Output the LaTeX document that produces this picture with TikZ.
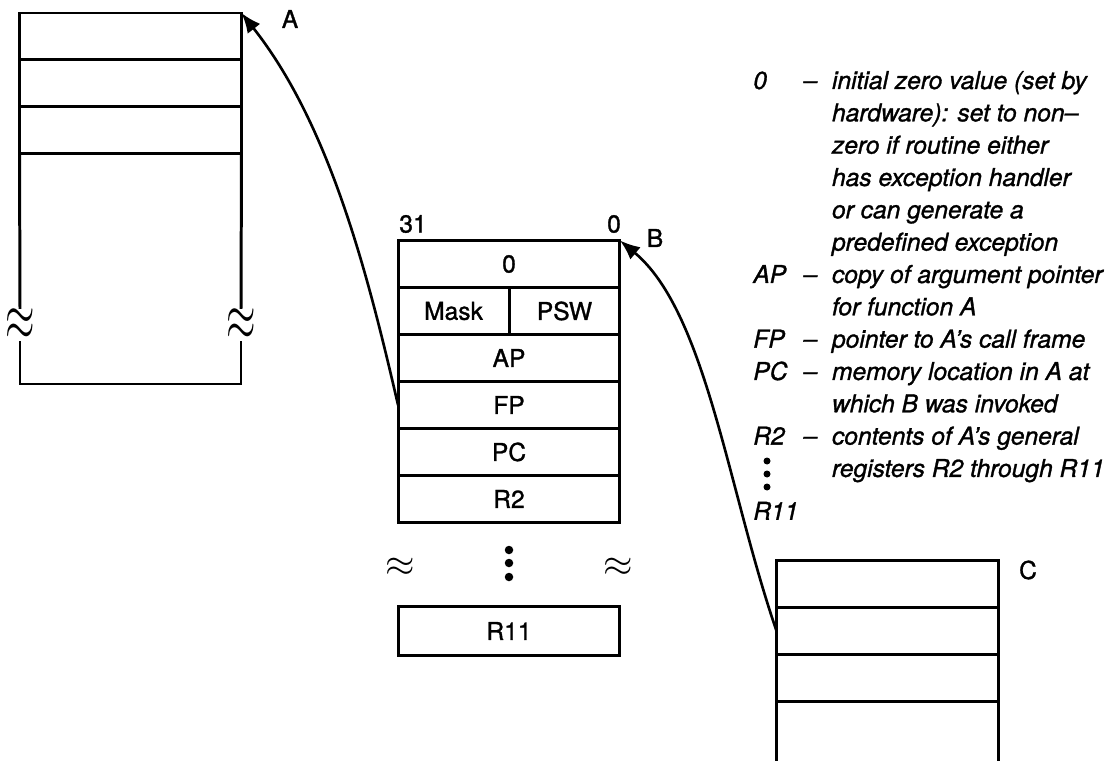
\documentclass[tikz,border=0pt]{standalone}
\usepackage{fontspec}
\setmainfont{TeX Gyre Heros}[RawFeature={embolden=1.2}]
\usetikzlibrary{arrows.meta, positioning}

\begin{document}
\begin{tikzpicture}[x=0.02cm, y=-0.02cm,
        cell/.style={rectangle, draw=black, line width=1.7pt, outer sep=0pt, inner sep=0pt, minimum width=4.44cm, minimum height=0.94cm, font=\fontsize{14}{17}\selectfont},
        half/.style={cell, minimum width=2.22cm},
        brk/.style={inner sep=0pt, font=\fontsize{14}{17}\selectfont},
        lbl/.style={inner sep=0pt, font=\fontsize{14}{17}\selectfont},
        side/.style={line width=1.7pt},
        arrow/.style={-{Latex[length=4mm, width=3.2mm]}, line width=1.5pt, draw=black}
    ]
        \useasboundingbox (0,0) rectangle (1111,760);

        % Pila de A (arriba a la izquierda)
        \node [cell] (a1) at (130.5,36.5) {};
        \node [cell, below=0pt of a1] (a2) {};
        \node [cell, below=0pt of a2] (a3) {};
        \node [brk] (abl) at (20,325) {\scalebox{1.5}[2.6]{$\approx$}};
        \node [brk] (abr) at (241,325) {\scalebox{1.5}[2.6]{$\approx$}};
        \coordinate (abot) at (241,384);
        \draw [side] (a3.south west) -- (abl.north);
        \draw [side] (a3.south east) -- (abr.north);
        \draw [side] (abl.south) |- (abot) -- (abr.south);
        \node [lbl] (la) at (290,19) {A};

        % Marco de llamada de B
        \node [cell] (b0) at (509,264) {0};
        \node [half, anchor=north west] (bmask) at (b0.south west) {Mask};
        \node [half, anchor=north east] (bpsw) at (b0.south east) {PSW};
        \node [cell, anchor=north west] (bap) at (bmask.south west) {AP};
        \node [cell, below=0pt of bap] (bfp) {FP};
        \node [cell, below=0pt of bfp] (bpc) {PC};
        \node [cell, below=0pt of bpc] (br2) {R2};
        \node [cell, minimum height=0.98cm] (br11) at (509,631) {R11};
        \node [lbl] (bhi) at (413,224) {31};
        \node [lbl] (blo) at (614,224) {0};
        \node [lbl] (lb) at (655,238) {B};
        \node [brk] (bbl) at (400,567) {\scalebox{1.5}{$\approx$}};
        \node [brk] (bbr) at (618,567) {\scalebox{1.5}{$\approx$}};
        \foreach \y in {550,563,577}
            \fill (509,\y) circle[radius=0.085cm];

        % Pila de C (abajo a la derecha)
        \node [cell] (c1) at (887.5,584) {};
        \node [cell, below=0pt of c1] (c2) {};
        \node [cell, below=0pt of c2] (c3) {};
        \draw [side] (c3.south west) -- ++(0,60);
        \draw [side] (c3.south east) -- ++(0,60);
        \node [lbl] (lc) at (1028,570) {C};

        % Enlaces
        \draw [arrow] (bfp.west) .. controls (368,275) and (330,125) .. (a1.north east);
        \draw [arrow] (c2.west) .. controls (728,490) and (706,312) .. (b0.north east);

        % Leyenda
        \node [anchor=base west, inner sep=0pt, font=\fontsize{14}{18.4}\selectfont\itshape] (legend) at (753,89) {%
            \begin{tabular}[t]{@{}p{1cm}@{}l@{\hspace{0.3cm}}l@{}}
                0  & -- & initial zero value (set by\\
                   &    & hardware): set to non--\\
                   &    & zero if routine either\\
                   &    & has exception handler\\
                   &    & or can generate a\\
                   &    & predefined exception\\
                AP & -- & copy of argument pointer\\
                   &    & for function A\\
                FP & -- & pointer to A's call frame\\
                PC & -- & memory location in A at\\
                   &    & which B was invoked\\
                R2 & -- & contents of A's general\\
                   &    & registers R2 through R11\\[6pt]
                R11 &   & \\
            \end{tabular}};
        \foreach \y in {461,474,487}
            \fill (767,\y) circle[radius=0.07cm];
    \end{tikzpicture}
\end{document}
